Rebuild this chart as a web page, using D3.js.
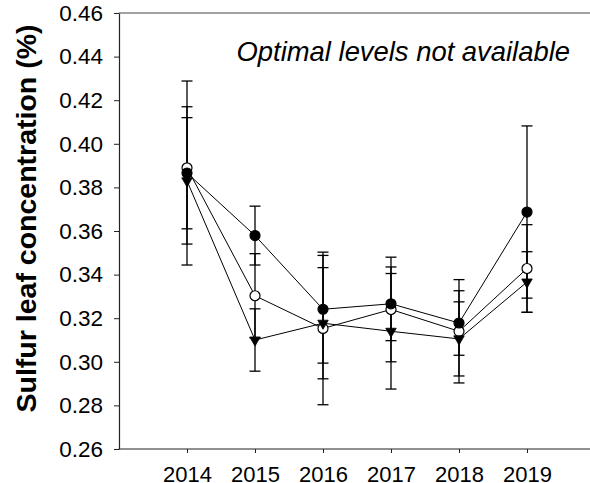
<!DOCTYPE html>
<html>
<head>
<meta charset="utf-8">
<script src="https://cdn.jsdelivr.net/npm/d3@7"></script>
<style>
  html, body { margin: 0; padding: 0; background: #fff; }
  svg { display: block; font-family: "Liberation Sans", Arial, sans-serif; }
</style>
</head>
<body>
<svg id="chart" width="590" height="483"></svg>
<script>
// ---- Data ----
const years = [2014, 2015, 2016, 2017, 2018, 2019];
const filledMean = [0.3866, 0.3579, 0.3241, 0.3266, 0.3178, 0.3687];
const filledErr  = [0.0422, 0.0135, 0.0247, 0.0169, 0.0148, 0.0395];
const openMean   = [0.3890, 0.3303, 0.3153, 0.3240, 0.3140, 0.3428];
const openErr    = [0.0280, 0.0193, 0.0350, 0.0240, 0.0237, 0.0201];
const triMean    = [0.3830, 0.3100, 0.3177, 0.3140, 0.3105, 0.3366];
const triErr     = [0.0290, 0.0143, 0.0255, 0.0265, 0.0170, 0.0139];
const yTicks = [0.26, 0.28, 0.30, 0.32, 0.34, 0.36, 0.38, 0.40, 0.42, 0.44, 0.46];
const yTitle = "Sulfur leaf concentration (%)";
const note = "Optimal levels not available";

const series = [
  { name: "open",   mean: openMean,   err: openErr,   symbol: "circle", fill: "#fff" },
  { name: "filled", mean: filledMean, err: filledErr, symbol: "circle", fill: "#000" },
  { name: "tri",    mean: triMean,    err: triErr,    symbol: "triangle", fill: "#000" }
];

const W = 590, H = 483;
const mLeft = 119, mTop = 13, mBottom = 449;

const svg = d3.select("#chart");
const x = d3.scaleLinear().domain([2013, 2020]).range([mLeft, 595]);
const y = d3.scaleLinear().domain([0.26, 0.46]).range([mBottom, mTop]);

// Axes
const yAxis = d3.axisLeft(y).tickValues(yTicks).tickFormat(d3.format(".2f"))
  .tickSizeInner(5).tickSizeOuter(0).tickPadding(11);
const gy = svg.append("g").attr("transform", `translate(${mLeft},0)`).call(yAxis);
gy.selectAll("text").attr("font-size", 22.5).attr("fill", "#000")
  .attr("font-family", '"Liberation Sans", Arial, sans-serif');
gy.selectAll("line").attr("stroke", "#222");
gy.select(".domain").attr("stroke", "#222").attr("stroke-width", 1.2);

const xAxis = d3.axisBottom(x).tickValues(years).tickFormat(d3.format("d"))
  .tickSizeInner(4).tickSizeOuter(0).tickPadding(13);
const gx = svg.append("g").attr("transform", `translate(0,${mBottom})`).call(xAxis);
gx.selectAll("text").attr("font-size", 22).attr("fill", "#000")
  .attr("font-family", '"Liberation Sans", Arial, sans-serif');
gx.selectAll("line").attr("stroke", "#222");
gx.select(".domain").remove();
svg.append("line").attr("x1", mLeft - 0.5).attr("x2", W).attr("y1", mBottom).attr("y2", mBottom)
  .attr("stroke", "#222").attr("stroke-width", 1.2);
// top frame line
svg.append("line").attr("x1", mLeft - 0.5).attr("x2", W).attr("y1", mTop).attr("y2", mTop)
  .attr("stroke", "#444").attr("stroke-width", 1.2);

// Y title
svg.append("text")
  .attr("transform", `translate(36,${(27 + 410) / 2}) rotate(-90)`)
  .attr("text-anchor", "middle")
  .attr("font-weight", "bold")
  .attr("font-size", 28.5)
  .attr("fill", "#000")
  .text(yTitle);

// Note
svg.append("text")
  .attr("x", 570).attr("y", 61)
  .attr("text-anchor", "end")
  .attr("font-style", "italic")
  .attr("font-size", 27.4)
  .attr("fill", "#000")
  .text(note);

// Lines
const line = d3.line().x((d, i) => x(years[i])).y(d => y(d));
series.forEach(s => {
  svg.append("path").datum(s.mean).attr("d", line)
    .attr("fill", "none").attr("stroke", "#000").attr("stroke-width", 1);
});

// Error bars
const capW = 5.5;
series.forEach(s => {
  const g = svg.append("g").attr("stroke", "#000").attr("stroke-width", 1.3);
  s.mean.forEach((m, i) => {
    const cx = x(years[i]);
    const y1 = y(m + s.err[i]), y2 = y(m - s.err[i]);
    g.append("line").attr("x1", cx).attr("x2", cx).attr("y1", y1).attr("y2", y2);
    g.append("line").attr("x1", cx - capW).attr("x2", cx + capW).attr("y1", y1).attr("y2", y1);
    g.append("line").attr("x1", cx - capW).attr("x2", cx + capW).attr("y1", y2).attr("y2", y2);
  });
});

// Markers
series.forEach(s => {
  const g = svg.append("g");
  s.mean.forEach((m, i) => {
    const cx = x(years[i]), cy = y(m);
    if (s.symbol === "circle") {
      g.append("circle").attr("cx", cx).attr("cy", cy).attr("r", 5)
        .attr("fill", s.fill).attr("stroke", "#000").attr("stroke-width", 1.2);
    } else {
      g.append("path")
        .attr("d", d3.symbol().type(d3.symbolTriangle).size(48)())
        .attr("transform", `translate(${cx},${cy}) rotate(180)`)
        .attr("fill", "#000").attr("stroke", "#000").attr("stroke-width", 0.8);
    }
  });
});
</script>
</body>
</html>
